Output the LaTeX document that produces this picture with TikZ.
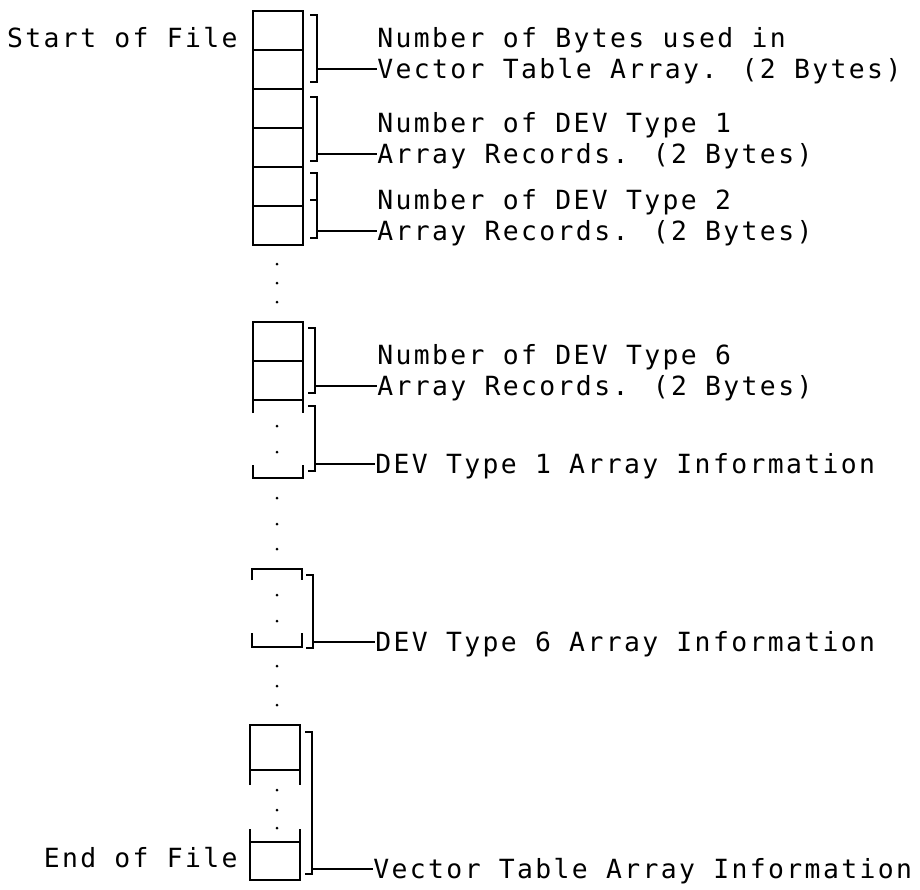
\documentclass[tikz,border=0pt]{standalone}
\usepackage{fontspec}
\newfontfamily\plotfont[LetterSpace=9]{DejaVu Sans Mono}
\usetikzlibrary{positioning}

\begin{document}
\begin{tikzpicture}[x=0.5pt, y=-0.5pt,
          cell/.style={line width=1pt},
          brace/.style={line width=1pt},
          lead/.style={line width=1pt},
          label/.style={anchor=west, inner sep=0pt, text height=9.6pt, text depth=0pt,
                        font=\plotfont\fontsize{13.2}{15}\selectfont}
        ]
          \useasboundingbox (0,0) rectangle (920,889);

          % file records, first block
          \draw[cell] (253,11) rectangle (303,245);
          \foreach \y in {50,89,128,167,206}
            \draw[cell] (253,\y) -- (303,\y);

          % DEV type 6 record and type 1 array
          \draw[cell] (253,413) -- (253,322) -- (303,322) -- (303,413);
          \draw[cell] (253,361) -- (303,361);
          \draw[cell] (253,400) -- (303,400);
          \draw[cell] (253,465) -- (253,478) -- (303,478) -- (303,465);

          % DEV type 6 array
          \draw[cell] (252,580) -- (252,569) -- (302,569) -- (302,580);
          \draw[cell] (252,633) -- (252,647) -- (302,647) -- (302,633);

          % vector table array
          \draw[cell] (250,785) -- (250,725) -- (300,725) -- (300,785);
          \draw[cell] (250,770) -- (300,770);
          \draw[cell] (250,829) -- (250,880) -- (300,880) -- (300,829);
          \draw[cell] (250,842) -- (300,842);

          % dots
          \foreach \y in {264,283,302,426,452,498,524,549,595,621,666,686,705,790,810,828}
            \fill (277,\y) circle (1.5);

          % brackets
          \foreach \x/\t/\b in {317/15/82, 317/97/161, 317/173/238, 315/328/393,
                                315/406/471, 313/575/648, 312/732/874}
            \draw[brace] (\x-7,\t) -- (\x,\t) -- (\x,\b) -- (\x-7,\b);
          \draw[brace] (310,200) -- (317,200);

          % bracket ends
          \coordinate (b1) at (317,69);
          \coordinate (b2) at (317,154);
          \coordinate (b3) at (317,231);
          \coordinate (b4) at (315,386);
          \coordinate (b5) at (315,464);
          \coordinate (b6) at (313,642);
          \coordinate (b7) at (312,869);

          % left labels
          \node[label, anchor=east] (start) at (238,38) {Start of File};
          \node[label, anchor=east] (end) at (238,858) {End of File};

          % right labels
          \node[label] (t1a) at (377,38) {Number of Bytes used in};
          \node[label] (t1b) at (377,69) {Vector Table Array. (2 Bytes)};
          \node[label] (t2a) at (377,123) {Number of DEV Type 1};
          \node[label] (t2b) at (377,154) {Array Records. (2 Bytes)};
          \node[label] (t3a) at (377,200) {Number of DEV Type 2};
          \node[label] (t3b) at (377,231) {Array Records. (2 Bytes)};
          \node[label] (t4a) at (377,355) {Number of DEV Type 6};
          \node[label] (t4b) at (377,386) {Array Records. (2 Bytes)};
          \node[label] (t5) at (375,464) {DEV Type 1 Array Information};
          \node[label] (t6) at (375,642) {DEV Type 6 Array Information};
          \node[label] (t7) at (373,869) {Vector Table Array Information};

          % leaders
          \draw[lead] (b1) -- (t1b.west);
          \draw[lead] (b2) -- (t2b.west);
          \draw[lead] (b3) -- (t3b.west);
          \draw[lead] (b4) -- (t4b.west);
          \draw[lead] (b5) -- (t5.west);
          \draw[lead] (b6) -- (t6.west);
          \draw[lead] (b7) -- (t7.west);
\end{tikzpicture}
\end{document}
